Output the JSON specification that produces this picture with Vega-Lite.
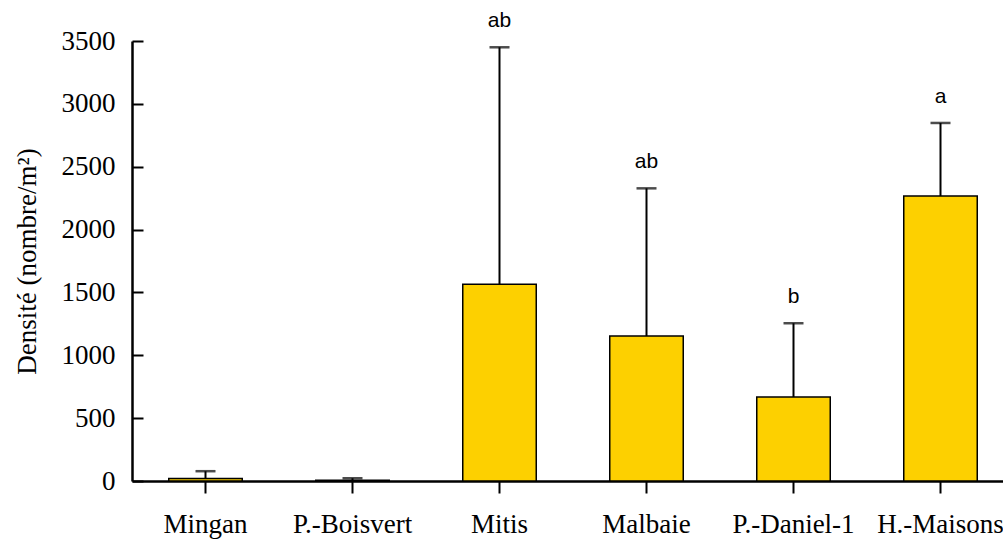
{
  "$schema": "https://vega.github.io/schema/vega-lite/v6.json",
  "autosize": "none",
  "width": 871,
  "height": 440,
  "padding": {"left": 132, "top": 41, "right": 0, "bottom": 61},
  "background": "white",
  "config": {"view": {"stroke": null}},
  "data": {"values": [
    {"site": "Mingan", "mean": 20, "upper": 78, "letter": ""},
    {"site": "P.-Boisvert", "mean": 6, "upper": 22, "letter": ""},
    {"site": "Mitis", "mean": 1565, "upper": 3450, "letter": "ab"},
    {"site": "Malbaie", "mean": 1153, "upper": 2328, "letter": "ab"},
    {"site": "P.-Daniel-1", "mean": 668, "upper": 1255, "letter": "b"},
    {"site": "H.-Maisons", "mean": 2267, "upper": 2848, "letter": "a"}
  ]},
  "encoding": {
    "x": {"field": "site", "type": "nominal", "sort": null,
      "scale": {"range": [0, 882], "paddingInner": 0.5, "paddingOuter": 0.25},
      "axis": {"title": null, "labelAngle": 0, "labelFont": "Liberation Serif", "labelFontSize": 27, "labelColor": "black",
        "domainColor": "black", "domainWidth": 2.5, "tickColor": "black", "tickWidth": 2, "tickSize": 12, "labelPadding": 18}}
  },
  "layer": [
    {"mark": {"type": "rule", "color": "black", "strokeWidth": 2},
     "encoding": {"y": {"field": "mean", "type": "quantitative"}, "y2": {"field": "upper"}}},
    {"mark": {"type": "tick", "color": "black", "thickness": 2.5, "size": 20, "orient": "horizontal"},
     "encoding": {"y": {"field": "upper", "type": "quantitative"}}},
    {"mark": {"type": "bar", "color": "#FDD000", "stroke": "black", "strokeWidth": 1.5},
     "encoding": {"y": {"field": "mean", "type": "quantitative",
       "scale": {"domain": [0, 3500]},
       "axis": {"title": "Densité (nombre/m²)", "titleFont": "Liberation Serif", "titleFontSize": 27, "titleFontWeight": "normal", "titleColor": "black", "titlePadding": 20,
         "values": [0, 500, 1000, 1500, 2000, 2500, 3000, 3500], "format": "d", "grid": false,
         "labelFont": "Liberation Serif", "labelFontSize": 27, "labelColor": "black", "labelPadding": 28,
         "domainColor": "black", "domainWidth": 2.5, "tickColor": "black", "tickWidth": 2, "tickSize": -11}}}},
    {"mark": {"type": "text", "font": "Liberation Sans", "fontSize": 21, "baseline": "middle", "dy": -26, "color": "black"},
     "encoding": {"y": {"field": "upper", "type": "quantitative"}, "text": {"field": "letter"}}}
  ]
}
